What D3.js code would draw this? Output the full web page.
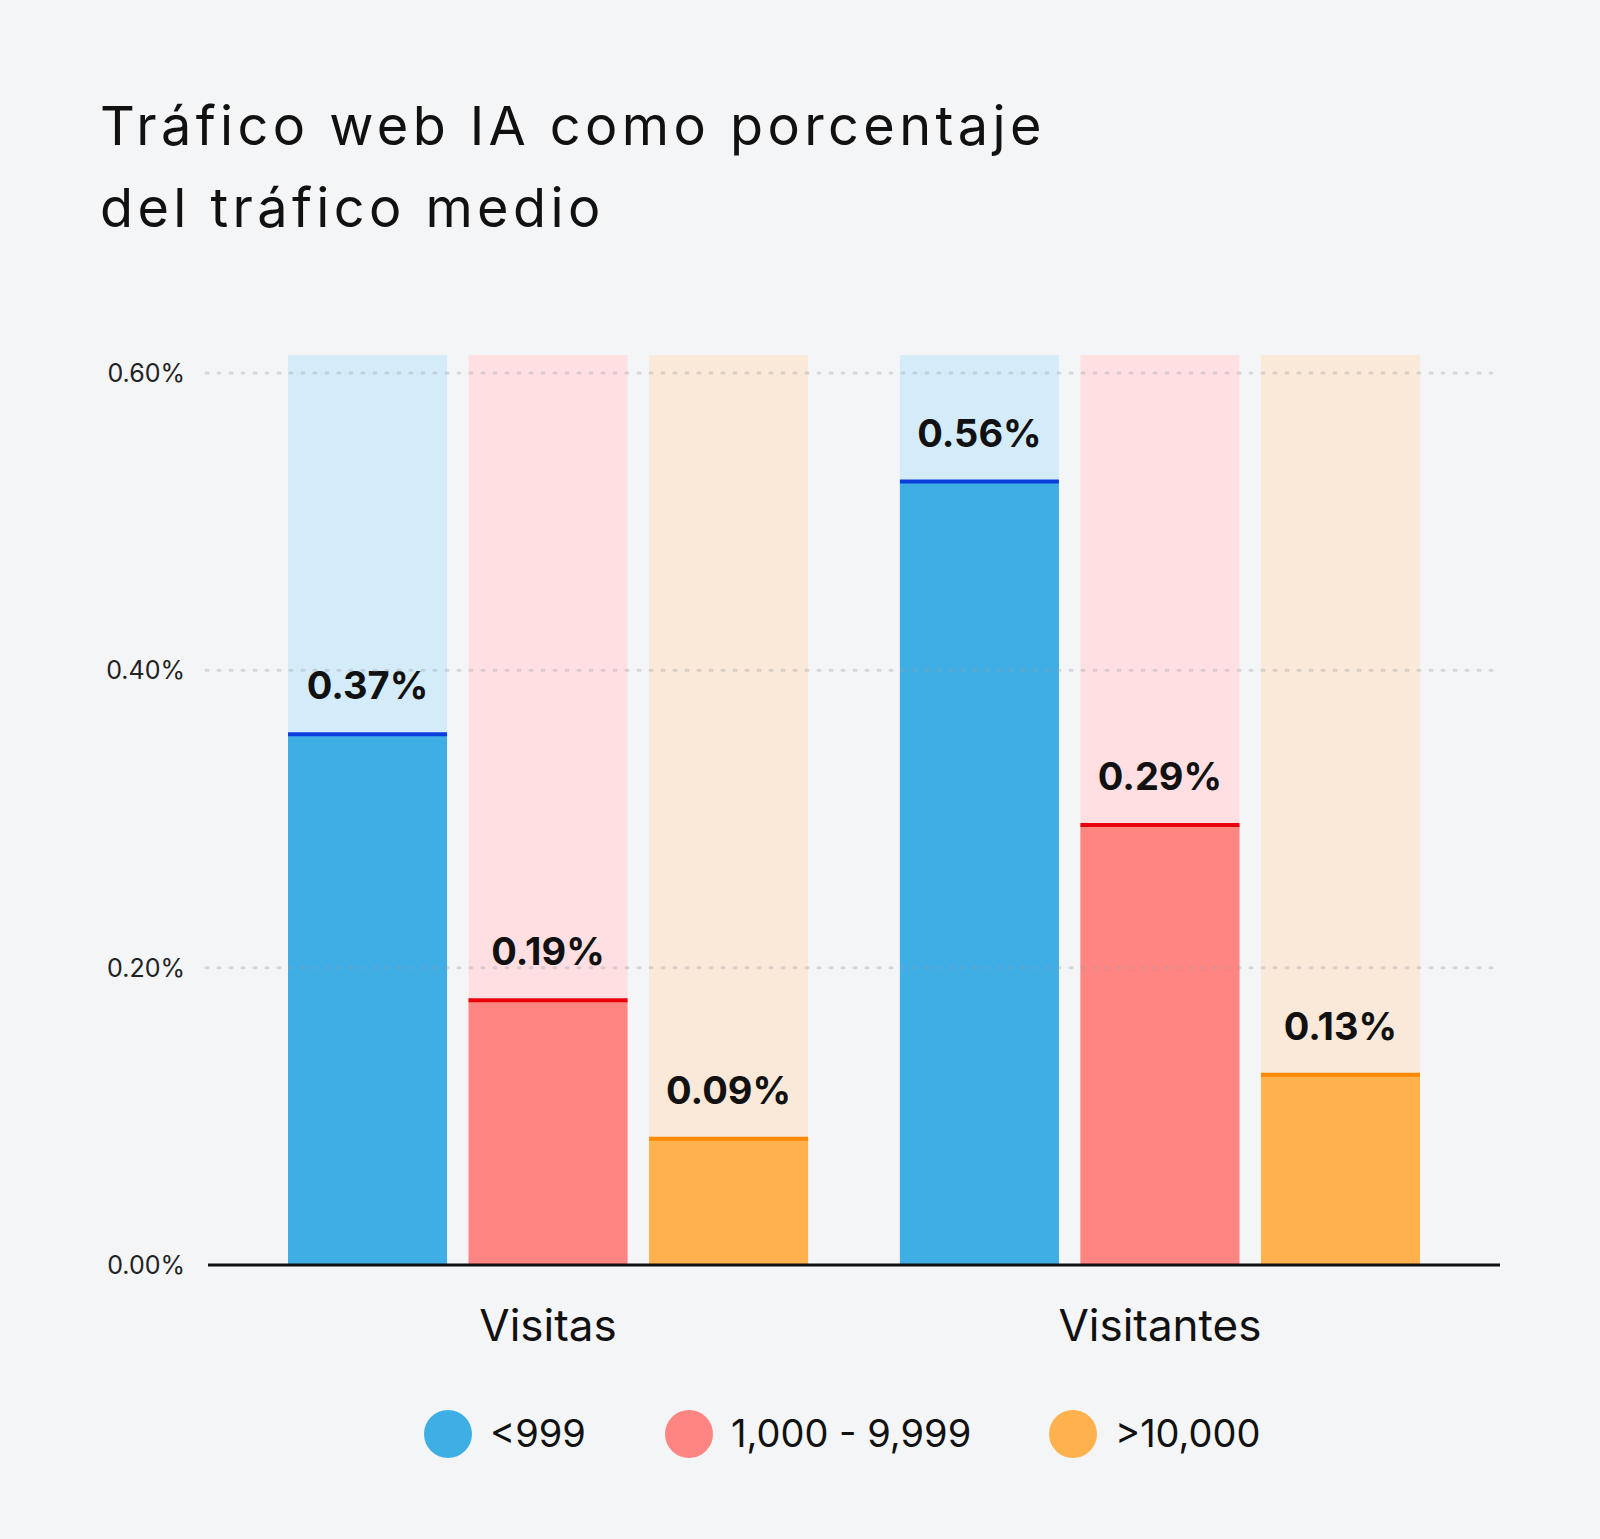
<!DOCTYPE html>
<html><head><meta charset="utf-8">
<script src="https://cdn.jsdelivr.net/npm/d3@7"></script>
<style>body{margin:0;background:#f4f5f7;}svg{display:block;font-family:Inter,"Noto Sans",sans-serif;}</style>
</head><body>
<script>
// chart data
var groups = ["Visitas", "Visitantes"];
var series = ["<999", "1,000 - 9,999", ">10,000"];
var values = [[0.357, 0.178, 0.085], [0.527, 0.296, 0.128]];
var labels = [["0.37%", "0.19%", "0.09%"], ["0.56%", "0.29%", "0.13%"]];
var yTicks = [0, 0.2, 0.4, 0.6];
var colours = {
    fill: ["#3eaee5", "#ff8583", "#ffb14e"],
    back: ["#d4ebfa", "#ffdfe2", "#fae8d8"],
    line: ["#0a3fdc", "#e8000b", "#ff8a00"]
};

var W = 1600, H = 1539;
var svg = d3.select("body").append("svg").attr("width", W).attr("height", H);
svg.append("rect").attr("width", W).attr("height", H).attr("fill", "#f4f5f7");

//Title
svg.append("text").attr("x", 100).attr("y", 145).attr("font-size", 54).attr("fill", "#111")
    .attr("letter-spacing", 4.4).text("Tráfico web IA como porcentaje");
svg.append("text").attr("x", 100).attr("y", 227).attr("font-size", 54).attr("fill", "#111")
    .attr("letter-spacing", 4.4).text("del tráfico medio");

var y = d3.scaleLinear().domain([0, 0.6]).range([1265, 373]);
var x0 = d3.scaleBand().domain(groups).range([288, 1420]).paddingInner(0.15).paddingOuter(0);
var x1 = d3.scaleBand().domain(series).range([0, x0.bandwidth()]).paddingInner(0.119).paddingOuter(0);

//Bars
groups.forEach(function(g, gi){
    var gEl = svg.append("g").attr("transform", "translate(" + x0(g) + ",0)");
    series.forEach(function(s, si){
        var v = values[gi][si], bx = x1(s), bw = x1.bandwidth();
        gEl.append("rect").attr("x", bx).attr("width", bw).attr("y", y(0.612)).attr("height", y(0) - y(0.612))
            .attr("fill", colours.back[si]);
        gEl.append("rect").attr("x", bx).attr("width", bw).attr("y", y(v)).attr("height", y(0) - y(v))
            .attr("fill", colours.fill[si]);
        gEl.append("line").attr("x1", bx).attr("x2", bx + bw).attr("y1", y(v)).attr("y2", y(v))
            .attr("stroke", colours.line[si]).attr("stroke-width", 4);
        gEl.append("text").attr("x", bx + bw / 2).attr("y", y(v) - 35).attr("text-anchor", "middle")
            .attr("font-size", 38).attr("font-weight", 700).attr("fill", "#111").text(labels[gi][si]);
    });
    svg.append("text").attr("x", x0(g) + x0.bandwidth() / 2).attr("y", 1341).attr("text-anchor", "middle")
        .attr("font-size", 44).attr("fill", "#111").text(g);
});

//Grid, drawn over the bars
yTicks.forEach(function(t){
    if(t > 0){
        svg.append("line").attr("x1", 206).attr("x2", 1500).attr("y1", y(t)).attr("y2", y(t))
            .attr("stroke", "#9aa0a8").attr("stroke-opacity", 0.35).attr("stroke-width", 3)
            .attr("stroke-dasharray", "2,10").attr("stroke-linecap", "round");
    }
    svg.append("text").attr("x", 185).attr("y", y(t) + 9).attr("text-anchor", "end")
        .attr("font-size", 25).attr("fill", "#222").text(d3.format(".2f")(t) + "%");
});

//Axis
svg.append("line").attr("x1", 208).attr("x2", 1500).attr("y1", y(0)).attr("y2", y(0))
    .attr("stroke", "#111").attr("stroke-width", 3);

//Legend
var legendX = [448, 689, 1073];
series.forEach(function(s, si){
    svg.append("circle").attr("cx", legendX[si]).attr("cy", 1434).attr("r", 24).attr("fill", colours.fill[si]);
    svg.append("text").attr("x", legendX[si] + 42).attr("y", 1447).attr("font-size", 38).attr("fill", "#111").text(s);
});
</script>
</body></html>
